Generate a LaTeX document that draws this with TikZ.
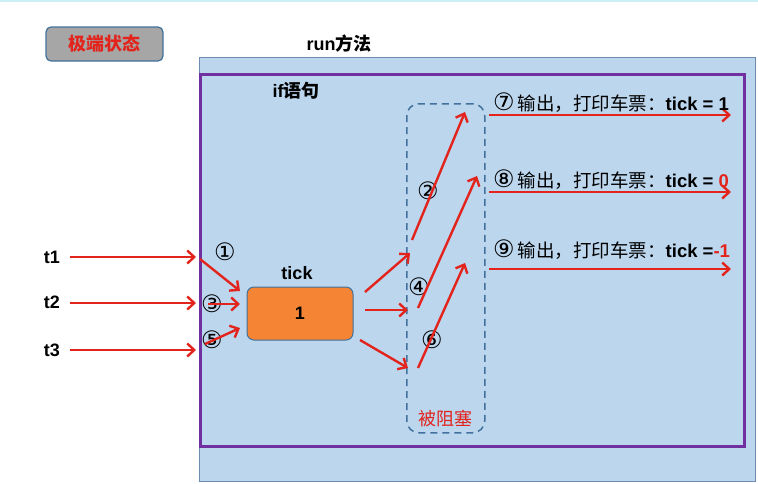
\documentclass[tikz,border=0pt]{standalone}
\usepackage{fontspec}
\setmainfont{Liberation Sans}
\newfontfamily\cjk{Noto Sans CJK SC}
\newfontfamily\circfont{DejaVu Sans}
\usetikzlibrary{arrows.meta}
\definecolor{bluefill}{RGB}{188,214,238}
\definecolor{outerline}{RGB}{110,140,175}
\definecolor{purplec}{RGB}{112,48,160}
\definecolor{redc}{RGB}{226,36,28}
\definecolor{orangec}{RGB}{245,133,52}
\definecolor{grayc}{RGB}{166,166,166}
\definecolor{dashc}{RGB}{65,113,156}
\definecolor{topline}{RGB}{205,240,247}
\newcommand{\circnum}[1]{{\circfont\fontsize{24}{24}\selectfont #1}}
\begin{document}
\begin{tikzpicture}[x=1pt,y=-1pt,
  arr/.style={draw=redc, line width=2.4pt, -{Straight Barb[length=7pt,width=13pt]}},
  txt/.style={inner sep=0pt, font=\fontsize{18}{20}\selectfont},
  num/.style={inner sep=0pt, font=\circfont\fontsize{24}{24}\selectfont},
  outlbl/.style={inner sep=0pt, anchor=west, font=\fontsize{18.5}{20}\selectfont}]
\useasboundingbox (0,0) rectangle (758,483);
\draw[topline, line width=1.5pt] (0,0.75) -- (758,0.75);
% state box
\node[draw=dashc, line width=1.2pt, fill=grayc, rounded corners=5pt, minimum width=117pt, minimum height=34pt]
  (state) at (104.5,44) {\cjk\bfseries\fontsize{18}{20}\selectfont\color{redc}极端状态};
\node[txt] (run) at (339,44) {\bfseries run\cjk 方法};
% method box
\node[draw=outerline, line width=1.2pt, fill=bluefill, anchor=north west, minimum width=556pt, minimum height=424pt, inner sep=0pt]
  (method) at (199,57) {};
\node[draw=purplec, line width=3pt, anchor=north west, minimum width=544pt, minimum height=372pt, inner sep=0pt]
  (ifbox) at (199,73) {};
\node[txt] (iflbl) at (296,91) {\bfseries if\cjk 语句};
% blocked box
\node[draw=dashc, line width=1.5pt, dash pattern=on 7pt off 5pt, rounded corners=12pt, anchor=north west,
  minimum width=78pt, minimum height=329pt, inner sep=0pt] (blocked) at (406,103) {};
\node[inner sep=0pt, font=\cjk\fontsize{18}{20}\selectfont, text=redc] (blk) at (445,419) {被阻塞};
% threads
\node[txt] (t1) at (52,257) {\bfseries t1};
\node[txt] (t2) at (52,302) {\bfseries t2};
\node[txt] (t3) at (52,350) {\bfseries t3};
\coordinate (t1s) at (70,257); \coordinate (t1e) at (196,257);
\coordinate (t2s) at (70,303); \coordinate (t2e) at (196,303);
\coordinate (t3s) at (70,350); \coordinate (t3e) at (196,350);
\draw[arr] (t1s) -- (t1e);
\draw[arr] (t2s) -- (t2e);
\draw[arr] (t3s) -- (t3e);
% tick
\node[txt] (ticklbl) at (297,273) {\bfseries tick};
\node[draw=dashc, line width=1pt, fill=orangec, rounded corners=7pt, minimum width=106pt, minimum height=53pt]
  (tick) at (300,313.5) {\bfseries\fontsize{18}{20}\selectfont 1};
% circled labels (drawn under arrows)
\node[num] (n1) at (225,252) {①};
\node[num] (n3) at (212,304) {③};
\node[num] (n5) at (212,340) {⑤};
\node[num] (n2) at (428,191) {②};
\node[num] (n4) at (419,287) {④};
\node[num] (n6) at (432,340) {⑥};
% incoming
\coordinate (a1s) at (200,259); \coordinate (a1e) at (240,291);
\coordinate (a3s) at (208,304); \coordinate (a3e) at (240,304);
\coordinate (a5s) at (205,344); \coordinate (a5e) at (240,328);
\draw[arr] (a1s) -- (a1e);
\draw[arr] (a3s) -- (a3e);
\draw[arr] (a5s) -- (a5e);
% outgoing from tick
\coordinate (b1s) at (365,292); \coordinate (b1e) at (410,253);
\coordinate (b2s) at (365,310); \coordinate (b2e) at (408,310);
\coordinate (b3s) at (360,340); \coordinate (b3e) at (408,368);
\draw[arr] (b1s) -- (b1e);
\draw[arr] (b2s) -- (b2e);
\draw[arr] (b3s) -- (b3e);
% diagonal
\coordinate (c1s) at (412,240); \coordinate (c1e) at (465,112);
\coordinate (c2s) at (418,308); \coordinate (c2e) at (477,176);
\coordinate (c3s) at (418,368); \coordinate (c3e) at (465,263);
\draw[arr] (c1s) -- (c1e);
\draw[arr] (c2s) -- (c2e);
\draw[arr] (c3s) -- (c3e);
% outputs
\coordinate (d1s) at (489,115); \coordinate (d1e) at (731,115);
\coordinate (d2s) at (489,192); \coordinate (d2e) at (731,192);
\coordinate (d3s) at (489,269); \coordinate (d3e) at (731,269);
\draw[arr] (d1s) -- (d1e);
\draw[arr] (d2s) -- (d2e);
\draw[arr] (d3s) -- (d3e);
\node[outlbl] (o1) at (493,103) {\circnum{⑦}\hspace{3pt}{\cjk 输出，打印车票：}\bfseries tick = 1};
\node[outlbl] (o2) at (493,180) {\circnum{⑧}\hspace{3pt}{\cjk 输出，打印车票：}\bfseries tick = {\color{redc}0}};
\node[outlbl] (o3) at (493,250) {\circnum{⑨}\hspace{3pt}{\cjk 输出，打印车票：}\bfseries tick ={\color{redc}-1}};
\end{tikzpicture}
\end{document}
